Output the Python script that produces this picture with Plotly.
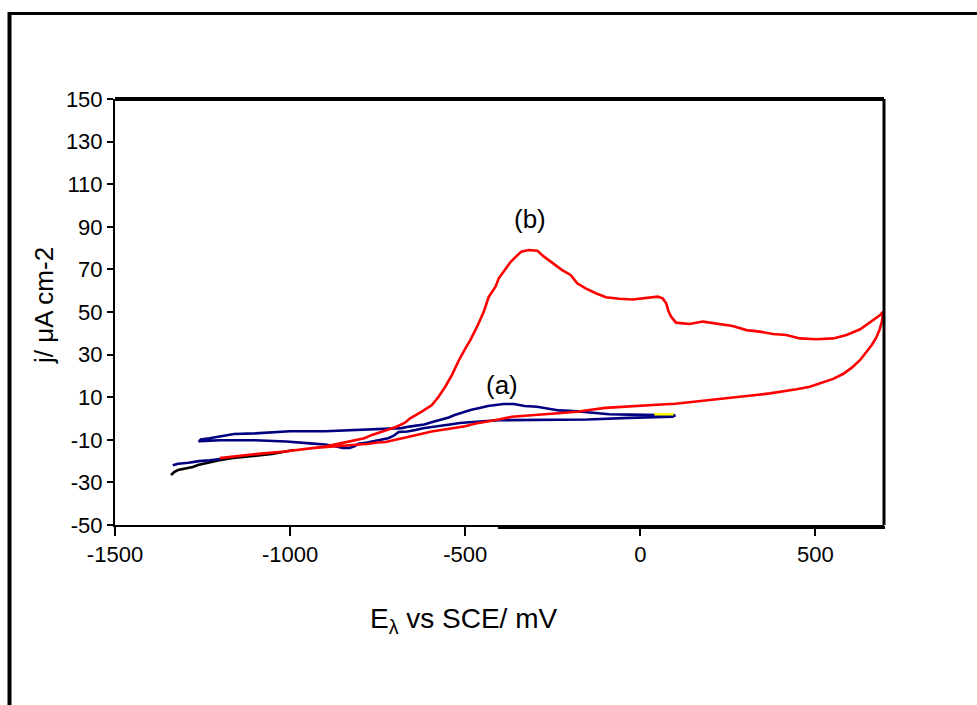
import plotly.graph_objects as go

# ---------------- data ----------------
x_ticks = [-1500, -1000, -500, 0, 500]
y_ticks = [-50, -30, -10, 10, 30, 50, 70, 90, 110, 130, 150]

# curve (b) - red, forward scan
red_fwd_E = [-1201, -1150, -1083, -1015, -948, -900, -860, -815, -788, -766, -750, -730,
             -698, -673, -657, -624, -595, -576, -557, -538, -519, -499, -485, -466,
             -447, -433, -413, -404, -385, -370, -355, -340, -318, -294, -275, -251,
             -223, -199, -180, -156, -127, -98, -60, -22, 16, 50, 64, 74, 81, 88, 102,
             140, 179, 226, 264, 303, 341, 379, 417, 456, 503, 551, 589, 628, 656, 685, 694]
red_fwd_j = [-18.6, -17.6, -16.4, -15.5, -14.1, -13.2, -11.8, -10.2, -9.3, -7.7, -6.8, -5.9,
             -4.0, -2.1, 0.1, 3.2, 6.3, 10.2, 14.9, 20.4, 27.0, 33.0, 36.9, 43.1,
             50.1, 57.0, 62.0, 65.8, 70.5, 73.6, 76.0, 78.3, 79.1, 78.8, 76.0, 73.2,
             69.7, 67.4, 63.5, 61.1, 58.8, 56.9, 56.2, 55.9, 56.6, 57.2, 56.4, 54.1, 50.2, 47.8, 45.0,
             44.4, 45.5, 44.4, 43.4, 41.5, 40.8, 39.7, 39.2, 37.6, 37.2, 37.6, 39.2, 41.9, 45.0, 48.6, 50.2]
# curve (b) - red, reverse scan
red_rev_E = [694, 690, 683, 673, 661, 647, 628, 605, 580, 551, 513, 484, 446, 408, 370, 330,
             290, 250, 200, 160, 100, 60, 20, -9, -50, -100, -146, -180, -226, -260, -304,
             -340, -367, -404, -440, -470, -500, -533, -565, -596, -620, -648, -670, -690,
             -727, -750, -780, -805, -830, -862, -900, -948, -1015, -1083, -1150, -1201]
red_rev_j = [50.2, 45.5, 41.5, 37.7, 34.5, 31.4, 27.5, 24.0, 21.0, 18.6, 16.5, 14.9, 13.7, 12.6, 11.8, 11.0,
             10.3, 9.6, 8.8, 7.8, 6.9, 6.6, 6.2, 5.9, 5.5, 5.0, 4.0, 3.2, 2.6, 2.1, 1.7,
             1.0, 0.8, -0.5, -1.5, -2.3, -3.6, -4.4, -5.3, -6.1, -7.0, -8.0, -8.8, -9.6,
             -11.0, -11.3, -12.0, -12.2, -12.5, -12.8, -13.3, -14.1, -15.5, -16.4, -17.6, -18.6]

# black start of the scan
black_E = [-1340, -1330, -1320, -1292, -1278, -1263, -1241, -1206, -1163, -1112, -1052, -989]
black_j = [-26.5, -25.0, -24.2, -23.3, -22.8, -21.8, -20.9, -19.7, -18.5, -17.6, -16.7, -14.8]

# curve (a) - blue loop, upper branch
blue_up_E = [-1261, -1255, -1230, -1200, -1180, -1160, -1100, -1054, -1000, -900, -834, -760,
             -682, -660, -640, -617, -596, -572, -547, -530, -510, -485, -456, -435, -413,
             -390, -361, -330, -295, -265, -232, -190, -146, -120, -89, -30, 34, 70, 100]
blue_up_j = [-11.0, -9.9, -9.3, -8.5, -8.0, -7.3, -7.0, -6.6, -6.0, -6.0, -5.6, -5.1,
             -4.5, -3.8, -3.3, -2.8, -1.8, -0.7, 0.5, 1.6, 2.6, 4.0, 5.0, 5.9, 6.3,
             6.8, 6.8, 5.9, 5.5, 4.6, 3.8, 3.5, 2.8, 2.6, 2.0, 1.8, 1.7, 1.6, 1.5]
# curve (a) - blue loop, lower branch
blue_low_E = [100, 92, 30, -32, -150, -300, -404, -450, -490, -515, -539, -570, -596, -620,
              -642, -665, -690, -705, -720, -740, -760, -780, -805, -815, -830, -850, -865,
              -900, -934, -970, -1011, -1100, -1200, -1258, -1261]
blue_low_j = [1.5, 0.8, 0.7, 0.3, -0.5, -0.5, -0.8, -1.3, -1.7, -2.1, -2.7, -3.3, -3.9, -4.6,
              -5.4, -6.1, -6.3, -8.2, -9.3, -10.0, -10.6, -11.3, -11.8, -13.0, -13.8, -13.8, -13.2,
              -12.2, -11.8, -11.3, -10.8, -10.2, -10.2, -10.6, -11.0]
# blue tail at lower left
blue_tail_E = [-1335, -1320, -1290, -1260, -1230, -1198]
blue_tail_j = [-22.0, -21.2, -20.8, -20.0, -19.6, -19.0]

# small yellow segment at the end of curve (a)
yellow_E = [40, 95]
yellow_j = [2.0, 2.0]

labels = ["(b)", "(a)"]
label_E = [-315, -394]
label_j = [93.7, 15.7]

# ---------------- figure ----------------
FONT = "Liberation Sans Narrow, Arial Narrow, Liberation Sans, Arial, sans-serif"
W, H = 977, 705
L, R, T, B = 115, 884, 99, 525


def pxx(px):
    return (px - L) / (R - L)


def pxy(py):
    return (B - py) / (B - T)


fig = go.Figure()
fig.add_trace(go.Scatter(x=black_E, y=black_j, mode="lines",
                         line=dict(color="#000000", width=2.6)))
fig.add_trace(go.Scatter(x=blue_tail_E, y=blue_tail_j, mode="lines",
                         line=dict(color="#000080", width=2.6)))
fig.add_trace(go.Scatter(x=blue_up_E + blue_low_E, y=blue_up_j + blue_low_j, mode="lines",
                         line=dict(color="#000080", width=2.6)))
fig.add_trace(go.Scatter(x=red_fwd_E + red_rev_E, y=red_fwd_j + red_rev_j, mode="lines",
                         line=dict(color="#FF0000", width=2.6)))
fig.add_trace(go.Scatter(x=yellow_E, y=yellow_j, mode="lines",
                         line=dict(color="#FFFF00", width=2.6)))

axis_common = dict(showgrid=False, zeroline=False, showline=True, linecolor="black",
                   linewidth=2, ticks="outside", tickcolor="black", tickwidth=2)

fig.update_layout(
    width=W, height=H, autosize=False,
    margin=dict(l=L, r=W - R, t=T, b=H - B, pad=0),
    paper_bgcolor="white", plot_bgcolor="white", showlegend=False,
    font=dict(family=FONT, color="black"),
    xaxis=dict(range=[-1500, 696], tickmode="array", tickvals=x_ticks,
               ticktext=[str(v) for v in x_ticks], ticklen=9,
               tickfont=dict(family=FONT, size=22, color="black"), **axis_common),
    yaxis=dict(range=[-50, 150], tickmode="array", tickvals=y_ticks,
               ticktext=[str(v) for v in y_ticks], ticklen=6,
               tickfont=dict(family=FONT, size=22, color="black"), **axis_common),
)

shapes = [
    # top and right frame of the plot
    dict(type="line", xref="paper", yref="paper", x0=0, x1=1, y0=1, y1=1,
         line=dict(color="black", width=4)),
    dict(type="line", xref="paper", yref="paper", x0=1, x1=1, y0=0, y1=1,
         line=dict(color="black", width=3)),
    # thicker part of the bottom axis
    dict(type="line", xref="paper", yref="paper", x0=pxx(498), x1=pxx(885), y0=pxy(527.5), y1=pxy(527.5),
         line=dict(color="black", width=3)),
    # outer page border (top and left)
    dict(type="line", xref="paper", yref="paper", x0=pxx(8), x1=pxx(980), y0=pxy(13.5), y1=pxy(13.5),
         line=dict(color="black", width=3)),
    dict(type="line", xref="paper", yref="paper", x0=pxx(9.5), x1=pxx(9.5), y0=pxy(12), y1=pxy(710),
         line=dict(color="black", width=4)),
]
fig.update_layout(shapes=shapes)

annotations = [
    dict(text=t, x=e, y=j, xref="x", yref="y", showarrow=False,
         font=dict(family=FONT, size=26, color="black"))
    for t, e, j in zip(labels, label_E, label_j)
]
annotations.append(dict(text="E<sub>λ</sub> vs SCE/ mV", xref="paper", yref="paper",
                        x=pxx(463), y=pxy(620), xanchor="center", yanchor="middle",
                        showarrow=False, font=dict(family=FONT, size=28, color="black")))
annotations.append(dict(text="j/ μA cm-2", xref="paper", yref="paper",
                        x=pxx(44), y=pxy(306), xanchor="center", yanchor="middle",
                        textangle=-90, showarrow=False,
                        font=dict(family=FONT, size=26, color="black")))
fig.update_layout(annotations=annotations)

fig.write_html("out.html")
